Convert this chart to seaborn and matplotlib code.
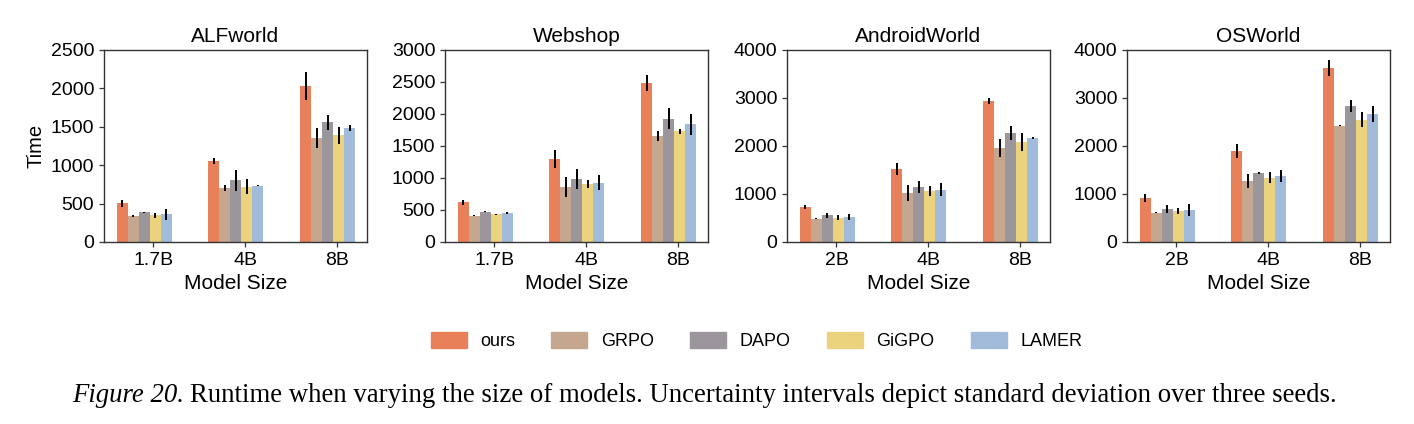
import matplotlib
matplotlib.use("Agg")
import matplotlib.pyplot as plt
import matplotlib.patches as mpatches
import numpy as np
import pandas as pd
import seaborn as sns

methods = ["ours", "GRPO", "DAPO", "GiGPO", "LAMER"]
colors = ["#E8805A", "#C4A78E", "#9B969B", "#EBD27D", "#A3BBDA"]

# rows = methods, columns = model sizes
alf_sizes = ["1.7B", "4B", "8B"]
alf_mean = [[503, 1055, 2031], [339, 703, 1354], [386, 803, 1558], [347, 720, 1389], [360, 733, 1484]]
alf_std = [[45, 45, 185], [10, 45, 128], [6, 135, 100], [30, 95, 108], [68, 5, 40]]

web_sizes = ["1.7B", "4B", "8B"]
web_mean = [[620, 1297, 2484], [411, 859, 1656], [474, 984, 1927], [437, 906, 1729], [453, 927, 1838]]
web_std = [[40, 135, 125], [8, 150, 75], [8, 150, 167], [8, 65, 40], [8, 117, 160]]

and_sizes = ["2B", "4B", "8B"]
and_mean = [[729, 1521, 2937], [486, 1014, 1958], [556, 1146, 2271], [507, 1062, 2076], [521, 1090, 2167]]
and_std = [[40, 130, 70], [10, 170, 185], [55, 115, 140], [50, 100, 190], [60, 135, 28]]

os_sizes = ["2B", "4B", "8B"]
os_mean = [[917, 1896, 3625], [611, 1271, 2423], [687, 1437, 2833], [639, 1340, 2549], [660, 1375, 2674]]
os_std = [[80, 140, 160], [10, 140, 10], [85, 20, 115], [60, 115, 150], [125, 130, 165]]

panels = [
    ("ALFworld", alf_sizes, alf_mean, alf_std, 2500, 500),
    ("Webshop", web_sizes, web_mean, web_std, 3000, 500),
    ("AndroidWorld", and_sizes, and_mean, and_std, 4000, 1000),
    ("OSWorld", os_sizes, os_mean, os_std, 4000, 1000),
]

sns.set_theme(style="ticks")
plt.rcParams["font.family"] = ["Liberation Sans", "DejaVu Sans"]
plt.rcParams["text.color"] = "black"
plt.rcParams["axes.labelcolor"] = "black"
plt.rcParams["axes.titlecolor"] = "black"
plt.rcParams["axes.edgecolor"] = "#333333"
plt.rcParams["xtick.color"] = "#333333"
plt.rcParams["ytick.color"] = "#333333"
plt.rcParams["xtick.labelcolor"] = "black"
plt.rcParams["ytick.labelcolor"] = "black"

fig = plt.figure(figsize=(14.14, 4.24), dpi=100)
W, H = 1414, 424
lefts = [104, 445, 787, 1127]

for k, (title, sizes, mean, std, ymax, ystep) in enumerate(panels):
    ax = fig.add_axes([lefts[k] / W, (H - 242) / H, 263 / W, 192 / H])
    rows = []
    for j, m in enumerate(methods):
        for i, s in enumerate(sizes):
            rows.append({"size": s, "method": m, "time": mean[j][i], "sd": std[j][i]})
    df = pd.DataFrame(rows)
    sns.barplot(data=df, x="size", y="time", hue="method", hue_order=methods,
                order=sizes, palette=colors, width=0.6, gap=0, errorbar=None,
                saturation=1, legend=False, ax=ax, linewidth=0)
    sd_lookup = {(r["method"], r["size"]): r["sd"] for r in rows}
    bar_conts = list(ax.containers)
    for j, cont in enumerate(bar_conts):
        for i, bar in enumerate(cont.patches):
            xc = bar.get_x() + bar.get_width() / 2
            ax.errorbar(xc, bar.get_height(), yerr=sd_lookup[(methods[j], sizes[i])],
                        fmt="none", ecolor="black", elinewidth=1.4, capsize=0, zorder=5)
    ax.set_xticks(np.arange(len(sizes)) + 0.1, sizes)
    ax.set_xlim(-0.44, 2.43)
    ax.set_ylim(0, ymax)
    ax.set_yticks(np.arange(0, ymax + 1, ystep))
    ax.tick_params(axis="both", labelsize=14, length=3.5, width=0.9)
    for sp in ax.spines.values():
        sp.set_linewidth(1.0)
    ax.set_title(title, fontsize=15)
    ax.set_xlabel("Model Size", fontsize=15)
    ax.set_ylabel("Time" if k == 0 else "", fontsize=14.5)

handles = [mpatches.Patch(color=c, label=m) for m, c in zip(methods, colors)]
fig.legend(handles=handles, loc="center", bbox_to_anchor=(0.535, 0.196), ncol=5,
           frameon=False, fontsize=13, handlelength=2.0, handleheight=1.0,
           handletextpad=0.75, columnspacing=2.0)

cap_y = 1 - 395 / H
t1 = fig.text(72 / W, cap_y, "Figure 20.", family="Liberation Serif", style="italic",
              fontsize=19.3, va="center", ha="left")
fig.canvas.draw()
bb = t1.get_window_extent()
fig.text(bb.x1 / W + 0.004, cap_y,
         "Runtime when varying the size of models. Uncertainty intervals depict standard deviation over three seeds.",
         family="Liberation Serif", fontsize=19.3, va="center", ha="left")

fig.savefig("out.png", dpi=100)
